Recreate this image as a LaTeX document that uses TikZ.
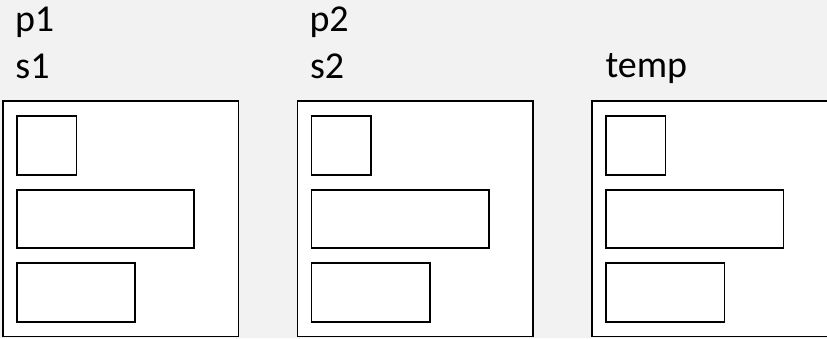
\documentclass[tikz,border=0pt]{standalone}
\usepackage{fontspec}
\setmainfont{Carlito}
\definecolor{bgc}{HTML}{F2F2F2}
\begin{document}
\begin{tikzpicture}[x=1pt,y=-1pt,
  outerbox/.style={draw=black, fill=white, line width=1.7pt, inner sep=0pt, outer sep=0pt, rectangle, anchor=north west, minimum width=235.5pt, minimum height=235.2pt},
  innerbox/.style={draw=black, fill=white, line width=1.7pt, inner sep=0pt, outer sep=0pt, rectangle, anchor=north west},
  lbl/.style={anchor=base west, inner sep=0pt, outer sep=0pt, font=\fontsize{38}{45}\selectfont, text=black}]
\fill[bgc] (0,0) rectangle (827,338);
\useasboundingbox (0,0) rectangle (827,338);
\foreach \i/\dx in {1/0, 2/294.4, 3/589.1} {
  \node[outerbox] (outer\i) at (3+\dx,101.3) {};
  \node[innerbox, minimum width=59.5pt, minimum height=58.7pt] (small\i) at (17+\dx,116) {};
  \node[innerbox, minimum width=177.3pt, minimum height=58.6pt] (wide\i) at (17+\dx,189.7) {};
  \node[innerbox, minimum width=118.3pt, minimum height=59pt] (low\i) at (17+\dx,263.2) {};
}
\node[lbl] (p1) at (15,31) {p1};
\node[lbl] (s1) at (15.5,78) {s1};
\node[lbl] (p2) at (309.5,31) {p2};
\node[lbl] (s2) at (310,78) {s2};
\node[lbl] (temp) at (605.5,77) {temp};
\end{tikzpicture}
\end{document}
